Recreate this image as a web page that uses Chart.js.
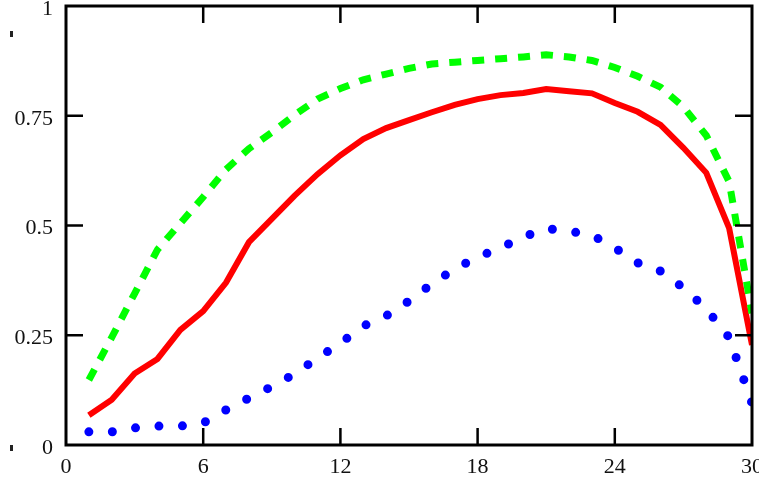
<!DOCTYPE html>
<html>
<head>
<meta charset="utf-8">
<script src="https://cdn.jsdelivr.net/npm/chart.js@4/dist/chart.umd.min.js"></script>
<style>
  html, body { margin: 0; padding: 0; background: #fff; overflow: hidden; }
  #wrap { width: 759px; height: 490px; }
</style>
</head>
<body>
<div id="wrap"><canvas id="chart" width="759" height="490"></canvas></div>
<script>
//x positions of the samples
const xValues = [1, 2, 3, 4, 5, 6, 7, 8, 9, 10, 11, 12, 13, 14, 15,
  16, 17, 18, 19, 20, 21, 22, 23, 24, 25, 26, 27, 28, 29, 30];
//solid red trace
const redValues = [0.068, 0.103, 0.163, 0.196, 0.262, 0.305, 0.370, 0.462, 0.515, 0.568,
  0.617, 0.660, 0.697, 0.722, 0.740, 0.758, 0.775, 0.788, 0.797, 0.802,
  0.811, 0.806, 0.801, 0.779, 0.759, 0.729, 0.677, 0.620, 0.494, 0.228];
//dashed green trace
const greenValues = [0.148, 0.245, 0.345, 0.445, 0.505, 0.565, 0.628, 0.675, 0.712, 0.752,
  0.788, 0.812, 0.832, 0.845, 0.858, 0.868, 0.872, 0.876, 0.880, 0.884,
  0.889, 0.884, 0.876, 0.860, 0.840, 0.815, 0.770, 0.705, 0.600, 0.300];
//dotted blue trace
const blueValues = [0.030, 0.030, 0.039, 0.043, 0.043, 0.050, 0.080, 0.107, 0.133, 0.162,
  0.198, 0.232, 0.271, 0.294, 0.328, 0.367, 0.401, 0.428, 0.449, 0.474,
  0.493, 0.487, 0.478, 0.449, 0.415, 0.396, 0.358, 0.310, 0.245, 0.095];
//axis ranges and tick steps
const xRange = [0, 30];
const xStep = 6;
const yRange = [0, 1];
const yStep = 0.25;

const toPoints = (vals) => vals.map((v, i) => ({ x: xValues[i], y: v }));

//box round the plot, ticks pointing inwards, and the two small marks on the left
const framePlugin = {
  id: "frame",
  afterDatasetsDraw(chart) {
    const { ctx, chartArea: a, scales } = chart;
    const tl = 17;
    ctx.save();
    ctx.strokeStyle = "#000";
    ctx.lineWidth = 2.5;
    ctx.beginPath();
    scales.x.ticks.forEach(t => {
      if (t.value <= xRange[0] || t.value >= xRange[1]) return;
      const px = scales.x.getPixelForValue(t.value);
      ctx.moveTo(px, a.bottom); ctx.lineTo(px, a.bottom - tl);
      ctx.moveTo(px, a.top); ctx.lineTo(px, a.top + tl);
    });
    scales.y.ticks.forEach(t => {
      if (t.value <= yRange[0] || t.value >= yRange[1]) return;
      const py = scales.y.getPixelForValue(t.value);
      ctx.moveTo(a.left, py); ctx.lineTo(a.left + tl, py);
      ctx.moveTo(a.right, py); ctx.lineTo(a.right - tl, py);
    });
    ctx.stroke();
    ctx.lineWidth = 3;
    ctx.strokeRect(a.left, a.top, a.right - a.left, a.bottom - a.top);
    ctx.fillStyle = "#222";
    ctx.fillRect(10, a.top + 25, 3, 6);
    ctx.fillRect(10, a.bottom, 3, 6);
    ctx.restore();
  }
};

const serif = { family: "'Liberation Serif', 'DejaVu Serif', serif", size: 22 };

new Chart(document.getElementById("chart"), {
  type: "line",
  plugins: [framePlugin],
  data: {
    datasets: [
      {
        data: toPoints(blueValues),
        borderColor: "#0000ff",
        borderWidth: 9,
        borderDash: [0, 23.5],
        borderCapStyle: "round",
        pointRadius: 0,
        tension: 0,
      },
      {
        data: toPoints(greenValues),
        borderColor: "#00ff00",
        borderWidth: 7,
        borderDash: [12, 11],
        borderCapStyle: "butt",
        pointRadius: 0,
        tension: 0,
      },
      {
        data: toPoints(redValues),
        borderColor: "#ff0000",
        borderWidth: 6,
        pointRadius: 0,
        tension: 0,
      },
    ],
  },
  options: {
    responsive: false,
    animation: false,
    layout: { padding: { top: 6, right: 7, bottom: 0, left: 0 } },
    plugins: { legend: { display: false }, tooltip: { enabled: false } },
    scales: {
      x: {
        type: "linear",
        min: xRange[0],
        max: xRange[1],
        grid: { display: false, drawTicks: false },
        border: { display: false },
        ticks: { stepSize: xStep, color: "#111", font: serif, padding: 9, maxRotation: 0 },
        afterFit(s) { s.height = 45; s.paddingLeft = 0; s.paddingRight = 0; },
      },
      y: {
        min: yRange[0],
        max: yRange[1],
        grid: { display: false, drawTicks: false },
        border: { display: false },
        ticks: {
          stepSize: yStep,
          color: "#111",
          font: serif,
          padding: 13,
          labelOffset: (c) => (c.tick && c.tick.value === yRange[1] ? 6 : 3),
          callback: v => String(v),
        },
        afterFit(s) { s.width = 66; s.paddingTop = 0; s.paddingBottom = 0; },
      },
    },
  },
});
</script>
</body>
</html>
